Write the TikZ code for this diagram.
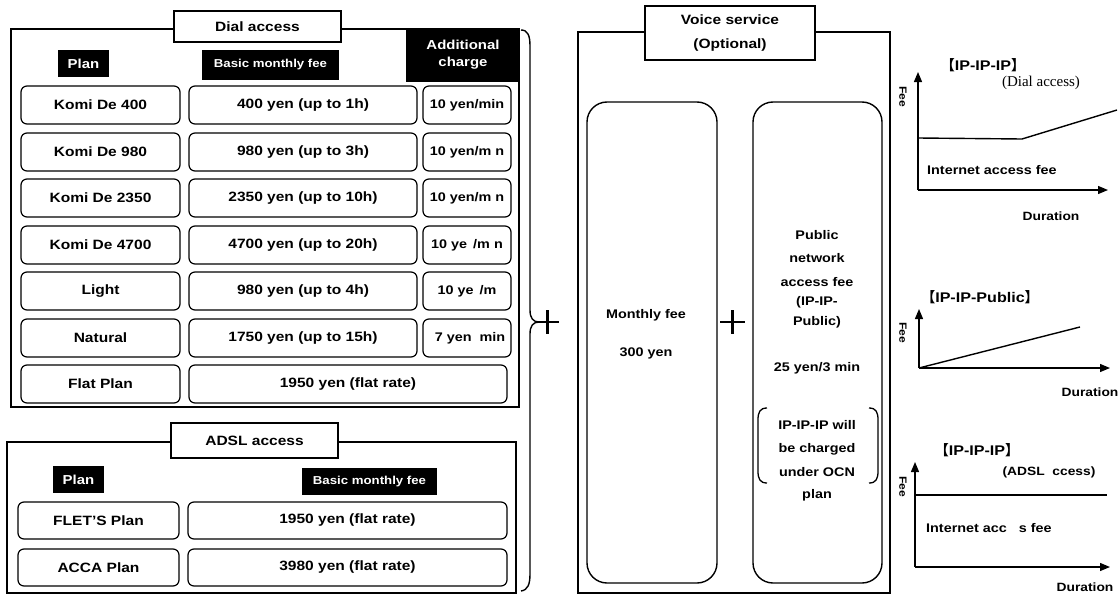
\documentclass[tikz,border=0pt]{standalone}
\usepackage{fontspec}
\setmainfont[FakeStretch=1.15]{Liberation Sans}
\newfontfamily\serifft{Liberation Serif}
\newfontfamily\cjk{Noto Sans CJK JP}
\usetikzlibrary{arrows.meta}
% rectangle node given by its corners: style, name, x1, y1, x2, y2, text
\newcommand\rectnode[7]{\node[#1, minimum width={#5-#3}, minimum height={#6-#4}] (#2) at ({(#3+#5)/2},{(#4+#6)/2}) {#7};}
\newcommand\fs[1]{\fontsize{#1}{#1}\selectfont}
\tikzset{
  cell/.style={draw, rounded corners=6pt, line width=1.2pt, inner sep=0pt, font=\bfseries\fs{13.5}},
  smallcell/.style={cell, font=\bfseries\fs{12.5}},
  tag/.style={fill=black, text=white, inner sep=0pt, align=center, font=\bfseries\fs{11.5}},
  bigtag/.style={tag, font=\bfseries\fontsize{13}{17}\selectfont},
  titlebox/.style={draw, fill=white, line width=1.2pt, inner sep=0pt, align=center, font=\bfseries\fontsize{13.5}{24}\selectfont},
  frame/.style={line width=1.2pt},
  tallbox/.style={draw, rounded corners=20pt, line width=1.4pt, inner sep=0pt},
  vtext/.style={font=\bfseries\fs{12.5}, inner sep=1pt},
  axis/.style={line width=1.3pt, -{Triangle[length=10pt,width=8pt]}},
  curve/.style={line width=1.4pt},
  gtext/.style={font=\bfseries\fs{12.5}, inner sep=0pt},
  gtitle/.style={font=\bfseries\fs{14}, inner sep=0pt},
  feelabel/.style={rotate=-90, font=\bfseries\fs{10.5}, inner sep=0pt},
  plusmark/.style={line width=2.6pt}
}
\begin{document}
\begin{tikzpicture}[x=1pt,y=-1pt]
\useasboundingbox (0,0) rectangle (1120,597);

% ---------------- Dial access ----------------
\draw[frame] (11,29) rectangle (519,407);
\rectnode{titlebox}{dialtitle}{174}{11}{341}{42}{Dial access}
\rectnode{tag}{dplan}{58}{50}{109}{77}{\fs{13}Plan}
\rectnode{tag}{dbasic}{202}{50}{339}{80}{Basic monthly fee}
\rectnode{bigtag}{dadd}{406}{28}{520}{82}{Additional\\charge}

\rectnode{cell}{dp1}{21}{86}{180}{124}{Komi De 400}
\rectnode{cell}{df1}{189}{86}{417}{124}{400 yen (up to 1h)}
\rectnode{smallcell}{dc1}{423}{86}{511}{124}{10 yen/min}

\rectnode{cell}{dp2}{21}{133}{180}{171}{Komi De 980}
\rectnode{cell}{df2}{189}{133}{417}{171}{980 yen (up to 3h)}
\rectnode{smallcell}{dc2}{423}{133}{511}{171}{10 yen/m n}

\rectnode{cell}{dp3}{21}{179}{180}{217}{Komi De 2350}
\rectnode{cell}{df3}{189}{179}{417}{217}{2350 yen (up to 10h)}
\rectnode{smallcell}{dc3}{423}{179}{511}{217}{10 yen/m n}

\rectnode{cell}{dp4}{21}{226}{180}{264}{Komi De 4700}
\rectnode{cell}{df4}{189}{226}{417}{264}{4700 yen (up to 20h)}
\rectnode{smallcell}{dc4}{423}{226}{511}{264}{10 ye\ \,/m n}

\rectnode{cell}{dp5}{21}{272}{180}{310}{Light}
\rectnode{cell}{df5}{189}{272}{417}{310}{980 yen (up to 4h)}
\rectnode{smallcell}{dc5}{423}{272}{511}{310}{10 ye\ \,/m\hspace{12pt}}

\rectnode{cell}{dp6}{21}{319}{180}{357}{Natural}
\rectnode{cell}{df6}{189}{319}{417}{357}{1750 yen (up to 15h)}
\rectnode{smallcell}{dc6}{423}{319}{511}{357}{\hspace{6pt}7 yen\ \ min}

\rectnode{cell}{dp7}{21}{365}{180}{403}{Flat Plan}
\rectnode{cell}{df7}{189}{365}{507}{403}{1950 yen (flat rate)}

% ---------------- ADSL access ----------------
\draw[frame] (7,442) rectangle (516,593);
\rectnode{titlebox}{adsltitle}{171}{423}{338}{458}{ADSL access}
\rectnode{tag}{aplan}{53}{466}{104}{493}{\fs{13}Plan}
\rectnode{tag}{abasic}{302}{468}{437}{495}{Basic monthly fee}
\rectnode{cell}{ap1}{18}{502}{179}{539}{FLET'S Plan}
\rectnode{cell}{af1}{188}{502}{507}{539}{1950 yen (flat rate)}
\rectnode{cell}{ap2}{18}{549}{179}{586}{ACCA Plan}
\rectnode{cell}{af2}{188}{549}{507}{586}{3980 yen (flat rate)}

% ---------------- brace and plus signs ----------------
\draw[line width=1.4pt] (521,30) .. controls (528,30) and (530,36) .. (530,46)
  -- (530,310) .. controls (530,318) and (533,322) .. (539,322)
  .. controls (533,322) and (530,326) .. (530,334)
  -- (530,574) .. controls (530,584) and (528,590) .. (521,591);
\draw[plusmark] (536,322) -- (559,322) (547.5,310) -- (547.5,334);
\draw[plusmark] (720,322) -- (745,322) (732.5,310) -- (732.5,334);

% ---------------- Voice service ----------------
\draw[frame] (578,32) rectangle (890,593);
\rectnode{titlebox}{voicetitle}{645}{6}{815}{60}{Voice service\\(Optional)}
\rectnode{tallbox}{vmonth}{587}{102}{717}{583}{}
\rectnode{tallbox}{vpub}{753}{102}{882}{583}{}
\node[vtext] (m1) at (646,315) {Monthly fee};
\node[vtext] (m2) at (646,353) {300 yen};
\node[vtext] (q1) at (817,235) {Public};
\node[vtext] (q2) at (817,258) {network};
\node[vtext] (q3) at (817,282) {access fee};
\node[vtext] (q4) at (817,302) {(IP-IP-};
\node[vtext] (q5) at (817,322) {Public)};
\node[vtext] (q6) at (817,368) {25 yen/3 min};
\node[vtext] (n1) at (817,425) {IP-IP-IP will};
\node[vtext] (n2) at (817,449) {be charged};
\node[vtext] (n3) at (817,472) {under OCN};
\node[vtext] (n4) at (817,495) {plan};
\draw[line width=1.3pt] (767,408) .. controls (760,408) and (758,412) .. (758,420)
  -- (758,471) .. controls (758,479) and (760,483) .. (767,483);
\draw[line width=1.3pt] (869,408) .. controls (876,408) and (878,412) .. (878,420)
  -- (878,471) .. controls (878,479) and (876,483) .. (869,483);

% ---------------- Fee graphs ----------------
% IP-IP-IP, dial access
\coordinate (g1) at (918,190);
\draw[axis] (g1) -- (918,72);
\draw[axis] (g1) -- (1108,190);
\draw[curve] (918,138) -- (1022,139) -- (1117,110);
\node[gtitle] (g1t) at (983,65) {{\cjk 【}IP-IP-IP{\cjk 】}};
\node[inner sep=0pt, font=\serifft\fs{15}] (g1s) at (1041,83) {(Dial access)};
\node[feelabel] (g1f) at (903,97) {Fee};
\node[gtext, anchor=west] (g1i) at (927,170) {Internet access fee};
\node[gtext, font=\bfseries\fs{12}] (g1d) at (1051,216) {Duration};

% IP-IP-Public
\coordinate (g2) at (919,368);
\draw[axis] (g2) -- (919,309);
\draw[axis] (g2) -- (1110,368);
\draw[curve] (g2) -- (1080,327);
\node[gtitle] (g2t) at (980,297) {{\cjk 【}IP-IP-Public{\cjk 】}};
\node[feelabel] (g2f) at (903,333) {Fee};
\node[gtext, font=\bfseries\fs{12}] (g2d) at (1090,392) {Duration};

% IP-IP-IP, ADSL access
\coordinate (g3) at (915,567);
\draw[axis] (g3) -- (915,462);
\draw[axis] (g3) -- (1110,567);
\draw[curve] (915,495) -- (1107,495);
\node[gtitle] (g3t) at (977,450) {{\cjk 【}IP-IP-IP{\cjk 】}};
\node[gtext, font=\bfseries\fs{12}] (g3s) at (1049,472) {(ADSL\ \ ccess)};
\node[feelabel] (g3f) at (903,487) {Fee};
\node[gtext, anchor=west] (g3i) at (926,528) {Internet acc\ \ \ s fee};
\node[gtext, font=\bfseries\fs{12}] (g3d) at (1085,587) {Duration};
\end{tikzpicture}
\end{document}
